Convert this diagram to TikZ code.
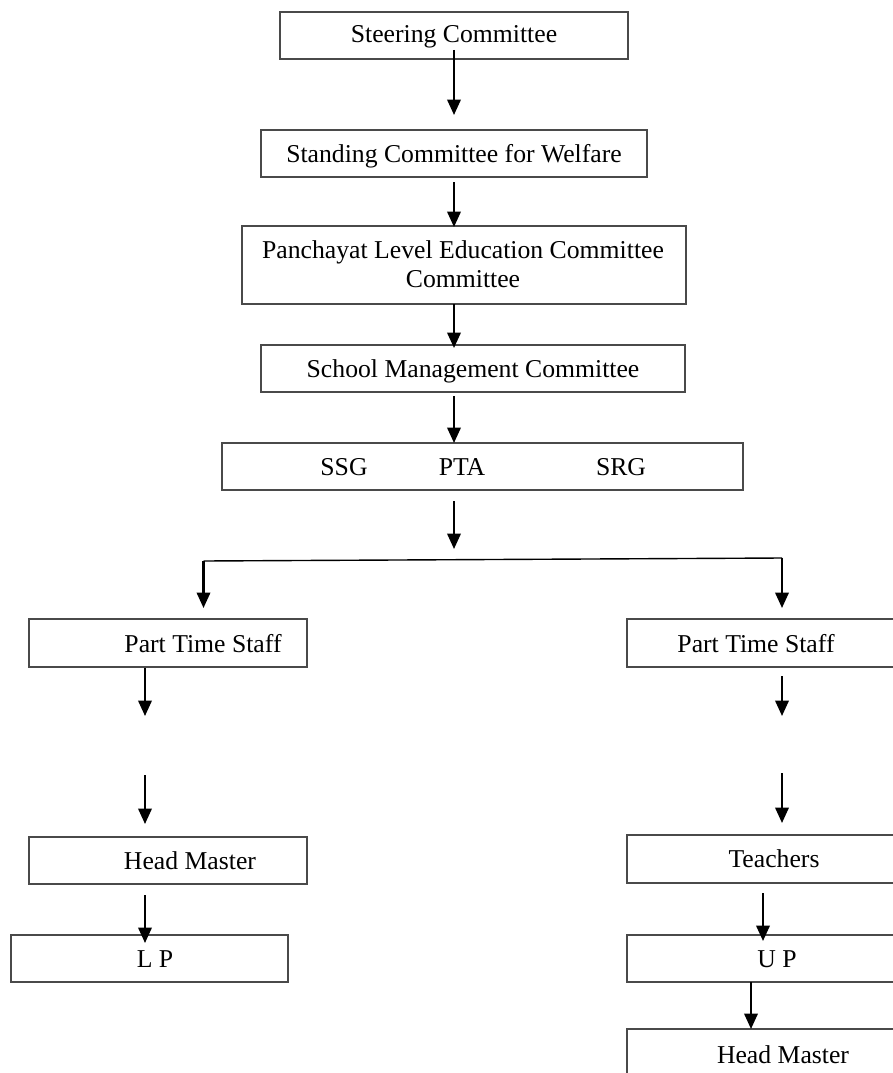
\documentclass[tikz,border=0pt]{standalone}
\usepackage{fontspec}
\setmainfont{Liberation Serif}
\usetikzlibrary{arrows.meta}
\definecolor{boxgray}{HTML}{4A4A4A}
\begin{document}
\begin{tikzpicture}[x=1pt,y=-1pt,
  box/.style={draw=boxgray,line width=1.2pt,rectangle,inner sep=0pt},
  txt/.style={anchor=base,inner sep=0pt,font=\fontsize{25.7}{29.5}\selectfont},
  arr/.style={line width=2.2pt,-{Triangle[length=15.5pt,width=13.5pt]}},
  branch/.style={line width=1.4pt}]
\useasboundingbox (0,0) rectangle (893,1073);
\clip (0,0) rectangle (893,1073);
% boxes
\node[box,minimum width=348pt,minimum height=47pt] (st)  at (454,35.5) {};
\node[box,minimum width=386pt,minimum height=47pt] (sw)  at (454,153.5) {};
\node[box,minimum width=444pt,minimum height=78pt] (pa)  at (464,265) {};
\node[box,minimum width=424pt,minimum height=47pt] (smc) at (473,368.5) {};
\node[box,minimum width=521pt,minimum height=47pt] (sg)  at (482.5,466.5) {};
\node[box,minimum width=278pt,minimum height=48pt] (ptl) at (168,643) {};
\node[box,minimum width=283pt,minimum height=48pt] (ptr) at (768.5,643) {};
\node[box,minimum width=278pt,minimum height=47pt] (hml) at (168,860.5) {};
\node[box,minimum width=277pt,minimum height=47pt] (lp)  at (149.5,958.5) {};
\node[box,minimum width=283pt,minimum height=48pt] (te)  at (768.5,859) {};
\node[box,minimum width=283pt,minimum height=47pt] (up)  at (768.5,958.5) {};
\node[box,minimum width=283pt,minimum height=71pt] (hmr) at (768.5,1064.5) {};
% texts
\node[txt] (tst)  at (454,43)    {Steering Committee};
\node[txt] (tsw)  at (454,162)   {Standing Committee for Welfare};
\node[txt] (tpa1) at (463,258)   {Panchayat Level Education Committee};
\node[txt] (tpa2) at (463,287)   {Committee};
\node[txt] (tsmc) at (473,377.5) {School Management Committee};
\node[txt] (tssg) at (344,475)   {SSG};
\node[txt] (tpta) at (462,475)   {PTA};
\node[txt] (tsrg) at (621,475)   {SRG};
\node[txt] (tptl) at (203,652)   {Part Time Staff};
\node[txt] (tptr) at (756,652)   {Part Time Staff};
\node[txt] (thml) at (190,869)   {Head Master};
\node[txt] (tlp)  at (155,967.5) {L P};
\node[txt] (tte)  at (774,867.5) {Teachers};
\node[txt] (tup)  at (777,967)   {U P};
\node[txt] (thmr) at (783,1063)  {Head Master};
% connector end points
\coordinate (a1s) at (454,50);   \coordinate (a1e) at (454,115);
\coordinate (a2s) at (454,182);  \coordinate (a2e) at (454,227);
\coordinate (a3s) at (454,304);  \coordinate (a3e) at (454,348);
\coordinate (a4s) at (454,396);  \coordinate (a4e) at (454,443);
\coordinate (a5s) at (454,501);  \coordinate (a5e) at (454,549);
\coordinate (brL) at (203.5,561); \coordinate (brR) at (782,558);
\coordinate (a6e) at (203.5,608); \coordinate (a7e) at (782,608);
\coordinate (a8s) at (145,668);  \coordinate (a8e) at (145,716);
\coordinate (a9s) at (145,775);  \coordinate (a9e) at (145,824);
\coordinate (a10s) at (145,895); \coordinate (a10e) at (145,943);
\coordinate (a11s) at (782,676); \coordinate (a11e) at (782,716);
\coordinate (a12s) at (782,773); \coordinate (a12e) at (782,823);
\coordinate (a13s) at (763,893); \coordinate (a13e) at (763,941);
\coordinate (a14s) at (751,982); \coordinate (a14e) at (751,1029);
% connectors
\draw[arr] (a1s) -- (a1e);
\draw[arr] (a2s) -- (a2e);
\draw[arr] (a3s) -- (a3e);
\draw[arr] (a4s) -- (a4e);
\draw[arr] (a5s) -- (a5e);
\draw[branch] (brL) -- (brR);
\draw[arr] (brL) -- (a6e);
\draw[arr] (brR) -- (a7e);
\draw[arr] (a8s) -- (a8e);
\draw[arr] (a9s) -- (a9e);
\draw[arr] (a10s) -- (a10e);
\draw[arr] (a11s) -- (a11e);
\draw[arr] (a12s) -- (a12e);
\draw[arr] (a13s) -- (a13e);
\draw[arr] (a14s) -- (a14e);
\end{tikzpicture}
\end{document}
